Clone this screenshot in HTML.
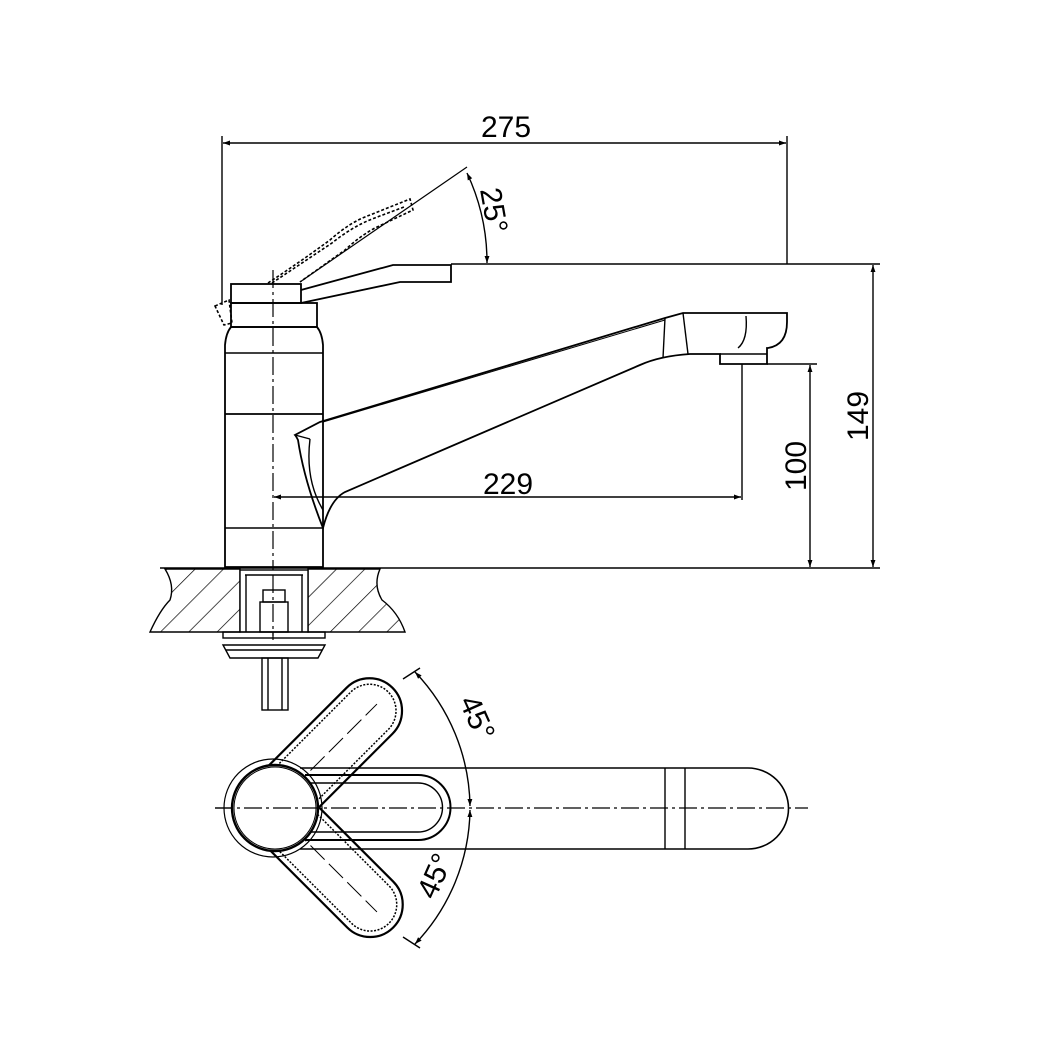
<!DOCTYPE html>
<html><head><meta charset="utf-8"><style>
html,body{margin:0;padding:0;background:#fff;}
svg{display:block;}
text{font-family:"Liberation Sans",sans-serif;fill:#000;}
</style></head><body>
<svg width="1040" height="1040" viewBox="0 0 1040 1040" xmlns="http://www.w3.org/2000/svg">
<defs>
<marker id="ar" viewBox="0 0 10 10" refX="10" refY="5" markerWidth="10" markerHeight="7" orient="auto-start-reverse" markerUnits="userSpaceOnUse"><path d="M0,1.5 L10,5 L0,8.5 z" fill="#000"/></marker>
<pattern id="hatch" patternUnits="userSpaceOnUse" width="20" height="20" patternTransform="rotate(45)"><line x1="0" y1="0" x2="0" y2="20" stroke="#000" stroke-width="1.4"/></pattern>
</defs>
<g fill="none" stroke="#000" stroke-width="1.4">
<line x1="222" y1="136" x2="222" y2="305"/>
<line x1="787" y1="136" x2="787" y2="264"/>
<line x1="223" y1="143" x2="786" y2="143" marker-start="url(#ar)" marker-end="url(#ar)"/>
<line x1="451" y1="264" x2="880" y2="264"/>
<line x1="160" y1="568" x2="880" y2="568"/>
<line x1="873" y1="265" x2="873" y2="567" marker-start="url(#ar)" marker-end="url(#ar)"/>
<line x1="767" y1="364" x2="817" y2="364"/>
<line x1="810" y1="365" x2="810" y2="567" marker-start="url(#ar)" marker-end="url(#ar)"/>
<line x1="742" y1="364" x2="742" y2="500"/>
<line x1="274" y1="497" x2="741" y2="497" marker-start="url(#ar)" marker-end="url(#ar)"/>
<path d="M225,567 L225,345 Q226,333 231,327 L317,327 Q322,333 323,345 L323,567 Z" stroke-width="1.8"/>
<line x1="225" y1="353" x2="323" y2="353"/>
<line x1="225" y1="414" x2="323" y2="414" stroke-width="1.8"/>
<line x1="225" y1="528" x2="323" y2="528"/>
<rect x="231" y="303" width="86" height="24" stroke-width="1.8"/>
<rect x="231" y="284" width="70" height="19" stroke-width="1.8"/>
<path d="M301,290 L393,265 L451,265 L451,282 L400,282 L301,303" stroke-width="1.8"/>
<g stroke-dasharray="3,2" stroke-width="1.6">
<path d="M268,283 Q300,262 330,240 Q350,222 370,215 L410,199 L413,210 L375,228 Q360,236 345,250 L300,282"/>
<path d="M272,283 Q302,263 332,243 Q352,227 372,219 L404,207"/>
<path d="M215,306 L229,300 L232,323 L224,325 Z"/>
</g>
<line x1="300" y1="282" x2="467" y2="167" stroke-width="1.2"/>
<path d="M467,173 A210,210 0 0 1 487,263" marker-start="url(#ar)" marker-end="url(#ar)"/>
<path d="M320,422 L665,318 L683,313 L787,313 L787,322 Q787,345 768,348 L767,348 L767,364 L720,364 L720,354 L690,354 Q660,356 640,365 L345,492 Q330,500 323,528 Q304,480 298,440 Q296,436 295,435 Z" stroke-width="1.8"/>
<line x1="295" y1="435" x2="310" y2="439"/>
<path d="M310,439 Q305,480 323,510"/>
<line x1="665" y1="318" x2="663" y2="358"/>
<line x1="683" y1="313" x2="688" y2="354"/>
<path d="M746,316 Q748,340 738,348"/>
<line x1="720" y1="354" x2="767" y2="354"/>
<line x1="323" y1="422" x2="665" y2="320" stroke-width="1"/>
<line x1="273" y1="270" x2="273" y2="640" stroke-dasharray="18,4,3,4" stroke-width="1.2"/>
<path d="M165,569 L240,569 L240,632 L150,632 Q160,610 170,600 Q175,585 165,569 Z" fill="url(#hatch)" stroke-width="1.4"/>
<path d="M308,569 L380,569 Q373,585 382,600 Q398,612 405,632 L308,632 Z" fill="url(#hatch)" stroke-width="1.4"/>
<rect x="240" y="570" width="68" height="62" fill="#fff"/>
<line x1="245" y1="575" x2="303" y2="575"/>
<line x1="246" y1="575" x2="246" y2="632"/>
<line x1="302" y1="575" x2="302" y2="632"/>
<rect x="263" y="590" width="22" height="12"/>
<rect x="260" y="602" width="28" height="30"/>
<line x1="273" y1="575" x2="273" y2="640" stroke-dasharray="18,4,3,4" stroke-width="1.2"/>
<rect x="223" y="632" width="102" height="6"/>
<path d="M223,645 L325,645 L318,658 L230,658 Z"/>
<line x1="226" y1="650" x2="322" y2="650"/>
<rect x="262" y="658" width="26" height="52"/>
<line x1="268" y1="658" x2="268" y2="710"/>
<line x1="282" y1="658" x2="282" y2="710"/>
<line x1="215" y1="808" x2="808" y2="808" stroke-dasharray="18,4,3,4" stroke-width="1.2"/>
<path d="M300,768 L748,768 A40.5,40.5 0 0 1 748,849 L300,849" stroke-width="1.6"/>
<line x1="665" y1="768" x2="665" y2="849"/>
<line x1="685" y1="768" x2="685" y2="849"/>
<path d="M305,775 L418,775 A32.5,32.5 0 0 1 418,840 L305,840" stroke-width="2"/>
<path d="M310,783 L418,783 A24.5,24.5 0 0 1 418,832 L310,832"/>
<g transform="rotate(-45 273 808)">
<path d="M290,775 L410,775 A32.5,32.5 0 0 1 410,840 L290,840" stroke-width="2.2"/>
<path d="M295,781 L410,781 A26.5,26.5 0 0 1 410,834 L295,834" stroke-dasharray="2,1.5" stroke-width="1.5"/>
<line x1="300" y1="808" x2="420" y2="808" stroke-dasharray="20,6" stroke-width="1"/>
</g>
<g transform="rotate(45 273 808)">
<path d="M290,775 L410,775 A32.5,32.5 0 0 1 410,840 L290,840" stroke-width="2.2"/>
<path d="M295,781 L410,781 A26.5,26.5 0 0 1 410,834 L295,834" stroke-dasharray="2,1.5" stroke-width="1.5"/>
<line x1="300" y1="808" x2="420" y2="808" stroke-dasharray="20,6" stroke-width="1"/>
</g>
<circle cx="273" cy="808" r="49" stroke-width="1.2"/>
<circle cx="275" cy="808" r="43" stroke-width="2.4" fill="#fff"/>
<circle cx="275" cy="808" r="41" stroke-width="1"/>
<line x1="215" y1="808" x2="320" y2="808" stroke-dasharray="18,4,3,4" stroke-width="1.2"/>
<line x1="403" y1="679" x2="420" y2="668"/>
<line x1="403" y1="937" x2="420" y2="948"/>
<path d="M415,672 A198,198 0 0 1 470,806" marker-start="url(#ar)" marker-end="url(#ar)"/>
<path d="M470,810 A198,198 0 0 1 415,944" marker-start="url(#ar)" marker-end="url(#ar)"/>
</g>
<text x="506" y="137" font-size="30" text-anchor="middle">275</text>
<text x="508" y="494" font-size="30" text-anchor="middle">229</text>
<text transform="translate(868,416) rotate(-90)" font-size="30" text-anchor="middle">149</text>
<text transform="translate(806,466) rotate(-90)" font-size="30" text-anchor="middle">100</text>
<text transform="translate(484,212) rotate(80)" font-size="30" text-anchor="middle">25°</text>
<text transform="translate(468,722) rotate(66)" font-size="30" text-anchor="middle">45°</text>
<text transform="translate(444,880) rotate(-66)" font-size="30" text-anchor="middle">45°</text>
</svg>
</body></html>
